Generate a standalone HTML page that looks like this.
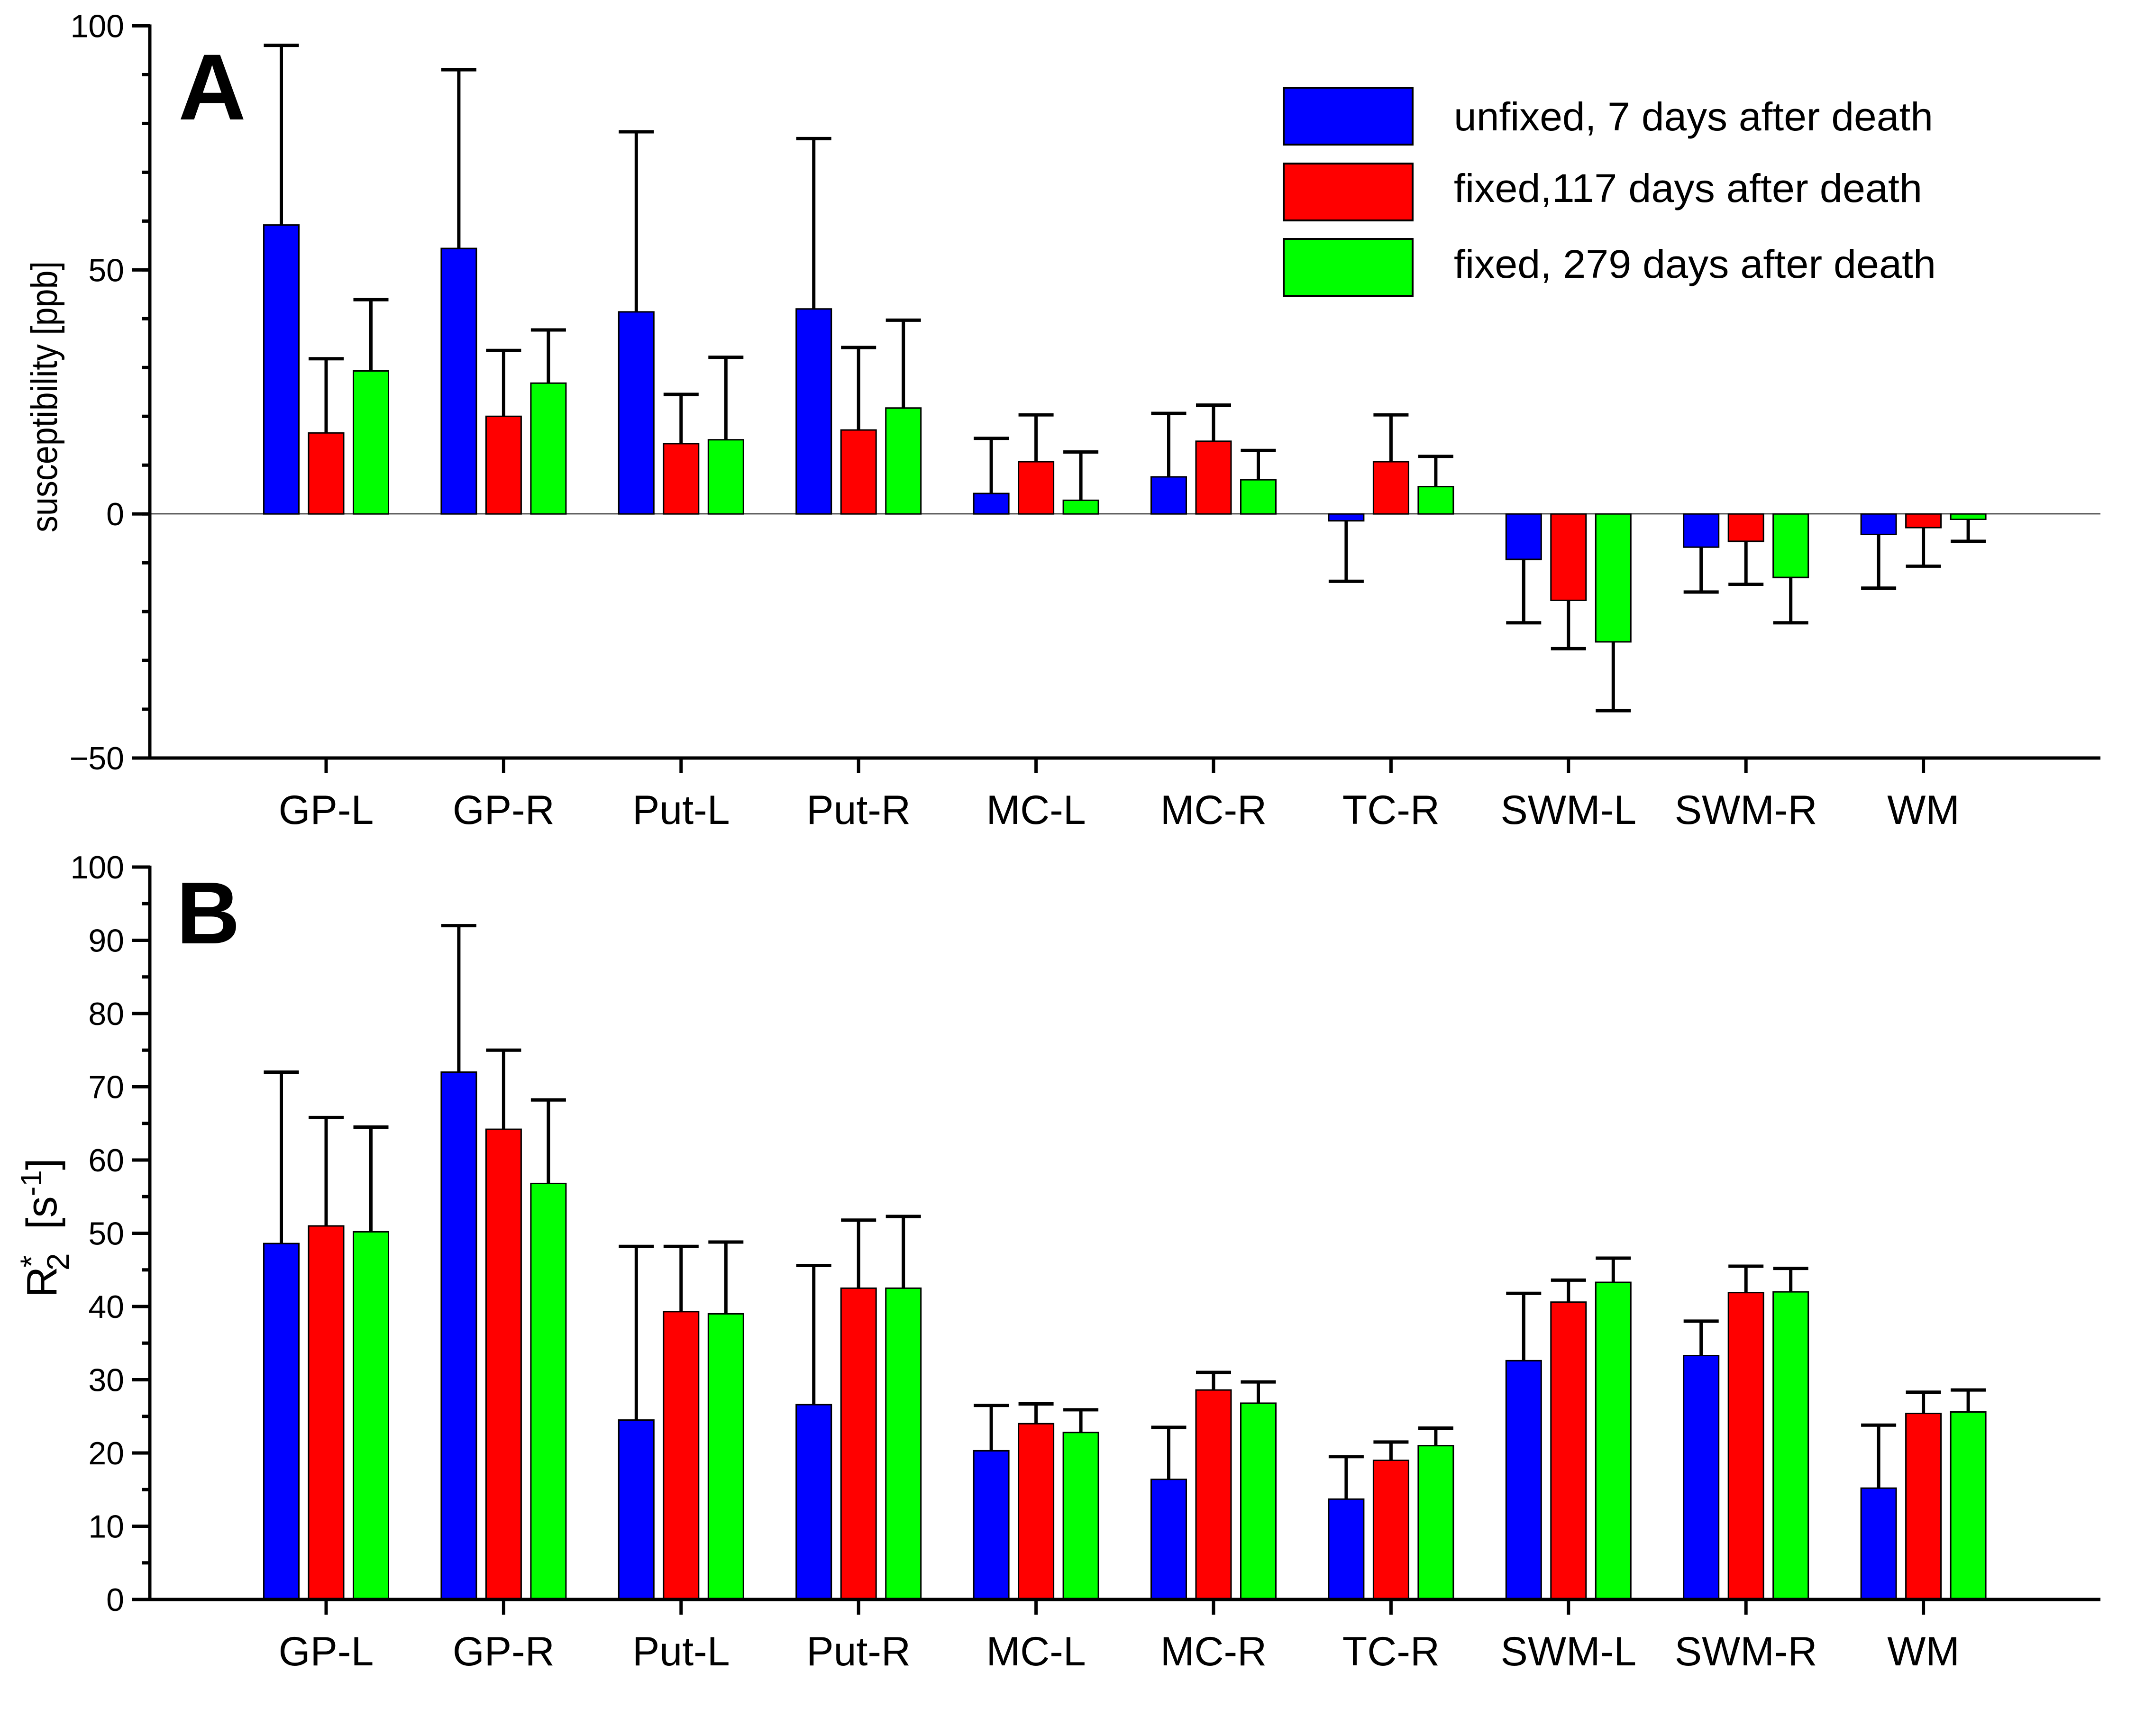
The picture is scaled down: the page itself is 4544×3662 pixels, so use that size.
<!DOCTYPE html>
<html><head><meta charset="utf-8"><style>
html,body{margin:0;padding:0;background:#fff;}
svg{display:block;font-family:"Liberation Sans",Arial,sans-serif;}
</style></head><body>
<svg id="chart" width="4544" height="3662" viewBox="0 0 4544 3662" xmlns="http://www.w3.org/2000/svg">
<rect width="4544" height="3662" fill="#fff"/>
<g id="panelA"></g>
<g id="panelB"></g>
<g id="legend">
  <rect x="2708" y="185" width="272" height="120" fill="#0000ff" stroke="#000" stroke-width="4"/>
  <text x="3067" y="275" font-size="84" textLength="1011" lengthAdjust="spacingAndGlyphs">unfixed, 7 days after death</text>
  <rect x="2708" y="345" width="272" height="120" fill="#ff0000" stroke="#000" stroke-width="4"/>
  <text x="3067" y="426" font-size="84" textLength="988" lengthAdjust="spacingAndGlyphs">fixed,117 days after death</text>
  <rect x="2708" y="504" width="272" height="120" fill="#00ff00" stroke="#000" stroke-width="4"/>
  <text x="3067" y="586" font-size="84" textLength="1017" lengthAdjust="spacingAndGlyphs">fixed, 279 days after death</text>
</g>
</svg>
<script>
const categories = ["GP-L","GP-R","Put-L","Put-R","MC-L","MC-R","TC-R","SWM-L","SWM-R","WM"];
const seriesNames = ["unfixed-7d","fixed-117d","fixed-279d"];
const seriesColors = ["#0000ff","#ff0000","#00ff00"];
// Panel A: susceptibility [ppb]
const suscUnfixed = [59.2,54.4,41.4,42.0,4.2,7.6,-1.4,-9.3,-6.8,-4.2];
const suscUnfixedErr = [96,91,78.3,76.9,15.5,20.6,-13.8,-22.3,-16,-15.2];
const suscFixed117 = [16.6,20.0,14.4,17.2,10.7,14.9,10.7,-17.7,-5.6,-2.8];
const suscFixed117Err = [31.8,33.5,24.5,34.1,20.3,22.3,20.3,-27.6,-14.4,-10.7];
const suscFixed279 = [29.3,26.8,15.2,21.7,2.8,7.0,5.6,-26.2,-13,-1.1];
const suscFixed279Err = [43.9,37.7,32.1,39.7,12.7,13.0,11.8,-40.3,-22.3,-5.6];
const ticksA = [100,50,0,-50];
// Panel B: R2* [s-1]
const r2Unfixed = [48.6,72.0,24.5,26.6,20.3,16.4,13.7,32.6,33.3,15.2];
const r2UnfixedErr = [72,92,48.2,45.6,26.5,23.5,19.5,41.8,38,23.8];
const r2Fixed117 = [51.0,64.2,39.3,42.5,24.0,28.6,19.0,40.6,41.9,25.4];
const r2Fixed117Err = [65.8,75,48.2,51.8,26.7,31,21.5,43.6,45.5,28.3];
const r2Fixed279 = [50.2,56.8,39.0,42.5,22.8,26.8,21.0,43.3,42.0,25.6];
const r2Fixed279Err = [64.5,68.2,48.8,52.3,25.9,29.7,23.4,46.6,45.2,28.6];
const ticksB = [0,10,20,30,40,50,60,70,80,90,100];

const NS = "http://www.w3.org/2000/svg";
function mk(parent, tag, attrs, text){
  const e = document.createElementNS(NS, tag);
  for (const k in attrs) e.setAttribute(k, attrs[k]);
  if (text !== undefined) e.textContent = text;
  parent.appendChild(e);
  return e;
}
const axisX = 316, axisRight = 4431;
const catX0 = 688, catStep = 374.4, barW = 74, barPitch = 94.5;
function xCat(i){ return catX0 + i*catStep; }

function drawPanel(g, cfg){
  const y = v => cfg.y0 + (v - cfg.vmin) * (cfg.y1 - cfg.y0) / (cfg.vmax - cfg.vmin);
  const baseY = cfg.baseline;
  if (cfg.zeroLine){
    const zl = mk(g, "line", {x1:axisX, x2:axisRight, y1:y(0), y2:y(0), stroke:"#000", "stroke-width":2});
    
    
  }
  const vals = cfg.values, errs = cfg.errs;
  for (let s = 0; s < 3; s++){
    for (let i = 0; i < categories.length; i++){
      const cx = xCat(i) + (s-1)*barPitch;
      const v = vals[s][i], e = errs[s][i];
      const top = Math.min(y(0), y(v)), h = Math.abs(y(v) - y(0));
      const el = mk(g, "line", {x1:cx, x2:cx, y1:y(v), y2:y(e), stroke:"#000", "stroke-width":7});
      
      
      const cap = mk(g, "line", {x1:cx-barW/2, x2:cx+barW/2, y1:y(e), y2:y(e), stroke:"#000", "stroke-width":7});
      
      
      const r = mk(g, "rect", {x:cx-barW/2, y:top, width:barW, height:h, fill:seriesColors[s], stroke:"#000", "stroke-width":3});
      
      
    }
  }
  const ya = mk(g, "line", {x1:axisX, x2:axisX, y1:y(cfg.vmax)-3, y2:baseY+3, stroke:"#000", "stroke-width":7});
  
  
  for (let v = cfg.vmin; v <= cfg.vmax + 1e-9; v += cfg.minorStep){
    const t = mk(g, "line", {x1:axisX-16, x2:axisX, y1:y(v), y2:y(v), stroke:"#000", "stroke-width":7});
    
    
  }
  cfg.ticks.forEach(v => {
    const t = mk(g, "line", {x1:axisX-37, x2:axisX, y1:y(v), y2:y(v), stroke:"#000", "stroke-width":7});
    
    
    const lbl = mk(g, "text", {x:262, y:y(v)+24, "font-size":68, "text-anchor":"end"}, v < 0 ? "\u2212" + Math.abs(v) : String(v));
    
    
  });
  const xa = mk(g, "line", {x1:axisX-3, x2:axisRight, y1:baseY, y2:baseY, stroke:"#000", "stroke-width":7});
  
  
  categories.forEach((c, i) => {
    const t = mk(g, "line", {x1:xCat(i), x2:xCat(i), y1:baseY, y2:baseY+32, stroke:"#000", "stroke-width":7});
    
    
    const lbl = mk(g, "text", {x:xCat(i), y:baseY+139, "font-size":86, "text-anchor":"middle"}, c);
    
    
  });
}

const gA = document.getElementById("panelA");
drawPanel(gA, {vmin:-50, vmax:100, y0:1599, y1:54.5, baseline:1599, minorStep:10, ticks:ticksA, zeroLine:true,
  values:[suscUnfixed, suscFixed117, suscFixed279], errs:[suscUnfixedErr, suscFixed117Err, suscFixed279Err]});
const gB = document.getElementById("panelB");
drawPanel(gB, {vmin:0, vmax:100, y0:3374, y1:1829, baseline:3374, minorStep:5, ticks:ticksB, zeroLine:false,
  values:[r2Unfixed, r2Fixed117, r2Fixed279], errs:[r2UnfixedErr, r2Fixed117Err, r2Fixed279Err]});

const tA = mk(gA, "text", {x:0, y:0, "font-size":78, "text-anchor":"middle", transform:"translate(120,837) rotate(-90)", textLength:"572", lengthAdjust:"spacingAndGlyphs"}, "susceptibility [ppb]");


const lA = mk(gA, "text", {x:376, y:252, "font-size":198, "font-weight":"bold"}, "A");


const tB = mk(gB, "text", {x:0, y:0, "font-size":90, "text-anchor":"middle", transform:"translate(119,2590) rotate(-90)"});


mk(tB, "tspan", {}, "R");
mk(tB, "tspan", {dy:-30, "font-size":66, dx:-2}, "*");
mk(tB, "tspan", {dy:56, "font-size":66, dx:-32}, "2");
mk(tB, "tspan", {dy:-26}, "\u00a0\u00a0[s");
mk(tB, "tspan", {dy:-32, "font-size":62}, "-1");
mk(tB, "tspan", {dy:32}, "]");
const lB = mk(gB, "text", {x:372, y:1990, "font-size":186, "font-weight":"bold"}, "B");


</script>
</body></html>
